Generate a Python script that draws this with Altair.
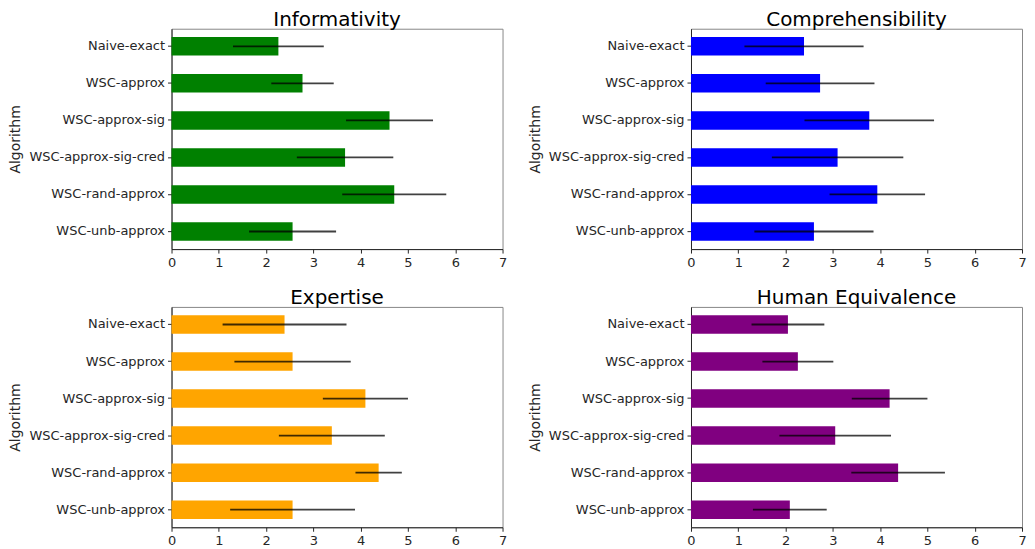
import altair as alt
import pandas as pd

algorithms = ["Naive-exact", "WSC-approx", "WSC-approx-sig",
              "WSC-approx-sig-cred", "WSC-rand-approx", "WSC-unb-approx"]

informativity_mean = [2.26, 2.77, 4.61, 3.67, 4.71, 2.56]
informativity_err = [0.96, 0.66, 0.92, 1.02, 1.10, 0.92]

comprehensibility_mean = [2.39, 2.73, 3.77, 3.10, 3.94, 2.60]
comprehensibility_err = [1.26, 1.15, 1.37, 1.39, 1.01, 1.26]

expertise_mean = [2.39, 2.56, 4.10, 3.39, 4.38, 2.56]
expertise_err = [1.31, 1.23, 0.90, 1.12, 0.49, 1.32]

human_mean = [2.05, 2.26, 4.20, 3.05, 4.38, 2.09]
human_err = [0.77, 0.75, 0.80, 1.18, 0.99, 0.78]

x_ticks = [0, 1, 2, 3, 4, 5, 6, 7]

FONT = "DejaVu Sans"
W, H = 332, 221


def panel(title, means, errs, color):
    df = pd.DataFrame({
        "Algorithm": algorithms,
        "mean": means,
        "lo": [m - e for m, e in zip(means, errs)],
        "hi": [m + e for m, e in zip(means, errs)],
    })
    y = alt.Y("Algorithm:N", sort=algorithms, title="Algorithm",
              scale=alt.Scale(paddingInner=0.5, paddingOuter=0.225),
              axis=alt.Axis(titlePadding=6))
    xscale = alt.Scale(domain=[0, 7], nice=False)
    bars = alt.Chart(df).mark_bar(color=color).encode(
        x=alt.X("mean:Q", scale=xscale, title=None,
                axis=alt.Axis(values=x_ticks, format="d", labelFlush=False)),
        y=y,
    )
    err = alt.Chart(df).mark_rule(color="black", opacity=0.75, strokeWidth=1.8).encode(
        x=alt.X("lo:Q", scale=xscale),
        x2="hi:Q",
        y=y,
    )
    return alt.layer(bars, err).properties(
        width=W, height=H,
        title=alt.TitleParams(title, anchor="middle"),
    )


p1 = panel("Informativity", informativity_mean, informativity_err, "#008000")
p2 = panel("Comprehensibility", comprehensibility_mean, comprehensibility_err, "#0000ff")
p3 = panel("Expertise", expertise_mean, expertise_err, "#ffa500")
p4 = panel("Human Equivalence", human_mean, human_err, "#800080")

chart = alt.vconcat(
    alt.hconcat(p1, p2, spacing=20),
    alt.hconcat(p3, p4, spacing=20),
    spacing=17,
).properties(
    padding={"left": 0, "top": 0, "right": 0, "bottom": 0}
).configure_axis(
    labelFont=FONT, labelFontSize=13, labelColor="#262626",
    titleFont=FONT, titleFontSize=14, titleFontWeight="normal", titleColor="#262626",
    tickColor="#262626", tickSize=4, domainColor="#262626", grid=False,
    labelPadding=3,
).configure_view(
    stroke="#888888",
).configure_title(
    font=FONT, fontSize=20, fontWeight="normal", color="#000000", offset=-1,
)

chart.save("out.html", embed_options={"renderer": "svg", "actions": False})
